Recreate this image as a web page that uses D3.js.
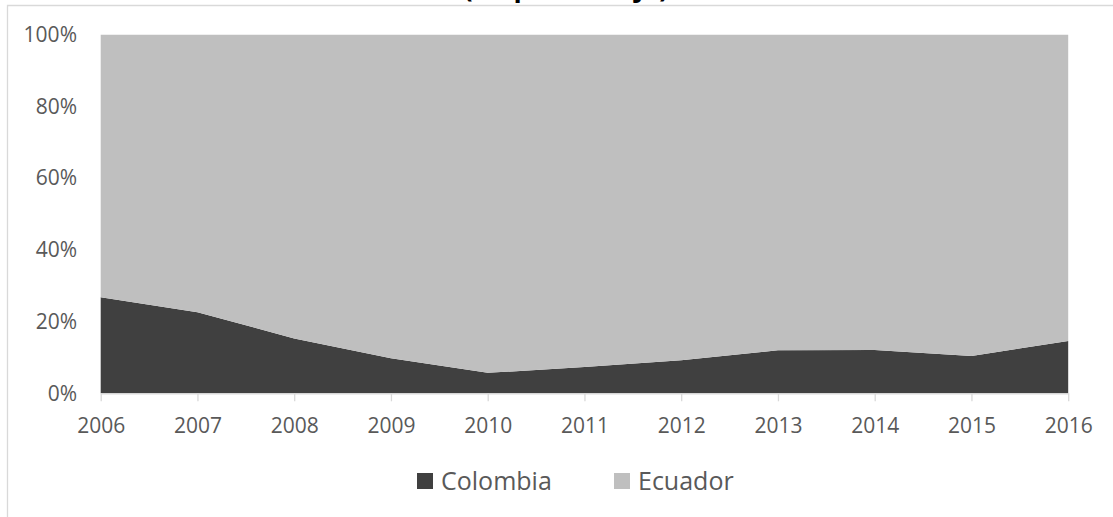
<!DOCTYPE html>
<html>
<head>
<meta charset="utf-8">
<script src="https://cdn.jsdelivr.net/npm/d3@7"></script>
<style>
  body { margin: 0; background: #fff; }
  svg { display: block; font-family: "Open Sans", sans-serif; }
</style>
</head>
<body>
<div id="graph"></div>
<script>
var years = [2006, 2007, 2008, 2009, 2010, 2011, 2012, 2013, 2014, 2015, 2016]
var colombia = [26.8, 22.6, 15.3, 9.8, 5.7, 7.3, 9.2, 12.0, 12.1, 10.4, 14.6]
var ecuador = [73.2, 77.4, 84.7, 90.2, 94.3, 92.7, 90.8, 88.0, 87.9, 89.6, 85.4]
var seriesNames = ['Colombia', 'Ecuador']
var seriesColors = ['#404040', '#bfbfbf']
var yTicks = [0, 0.2, 0.4, 0.6, 0.8, 1]
var title = '(en porcentaje)'

var width = 1113, height = 517
var svg = d3.select('#graph').append('svg')
  .attr('width', width).attr('height', height)

var rows = years.map((y, i) => ({year: y, Colombia: colombia[i], Ecuador: ecuador[i]}))
var stacked = d3.stack().keys(seriesNames).offset(d3.stackOffsetExpand)(rows)

var x = d3.scaleLinear().domain(d3.extent(years)).range([100.7, 1068.2])
var y = d3.scaleLinear().domain([0, 1]).range([393.3, 34.7])

// chart frame (cut off at top and right)
svg.append('path')
  .attr('d', 'M7.5,' + height + 'V5.5H' + width)
  .attr('fill', 'none').attr('stroke', '#d9d9d9').attr('stroke-width', 1.3)

// title, only the bottom of it shows
svg.append('text')
  .attr('x', 566).attr('y', -3)
  .attr('text-anchor', 'middle')
  .attr('font-size', 27).attr('font-weight', 'bold')
  .attr('fill', '#000')
  .text(title)

var area = d3.area()
  .x(d => x(d.data.year))
  .y0(d => y(d[0]))
  .y1(d => y(d[1]))

svg.selectAll('path.area').data(stacked).join('path')
  .attr('class', 'area')
  .attr('d', area)
  .attr('fill', (d, i) => seriesColors[i])

// x axis
var xAxis = svg.append('g')
  .attr('transform', 'translate(0,393.3)')
  .call(d3.axisBottom(x).tickValues(years).tickFormat(d3.format('d')).tickSizeInner(8).tickSizeOuter(0).tickPadding(17))
xAxis.select('.domain').attr('stroke', '#d9d9d9').attr('stroke-width', 1.3)
xAxis.selectAll('.tick line').attr('stroke', '#d9d9d9').attr('stroke-width', 1.3)
xAxis.selectAll('.tick text').attr('fill', '#595959').attr('font-size', 21)
  .attr('font-family', '"Open Sans", sans-serif')

// y axis
var yAxis = svg.append('g')
  .attr('transform', 'translate(77,0)')
  .call(d3.axisLeft(y).tickValues(yTicks).tickFormat(d3.format('.0%')).tickSize(0).tickPadding(0))
yAxis.select('.domain').remove()
yAxis.selectAll('.tick text').attr('fill', '#595959').attr('font-size', 21)
  .attr('font-family', '"Open Sans", sans-serif')

// legend
var legendX = [417, 614]
var legend = svg.selectAll('g.legend').data(seriesNames).join('g')
  .attr('class', 'legend')
  .attr('transform', (d, i) => 'translate(' + legendX[i] + ',473)')
legend.append('rect')
  .attr('width', 16).attr('height', 16)
  .attr('fill', (d, i) => seriesColors[i])
legend.append('text')
  .attr('x', 24).attr('y', 17)
  .attr('font-size', 25).attr('fill', '#595959')
  .text(d => d)
</script>
</body>
</html>
